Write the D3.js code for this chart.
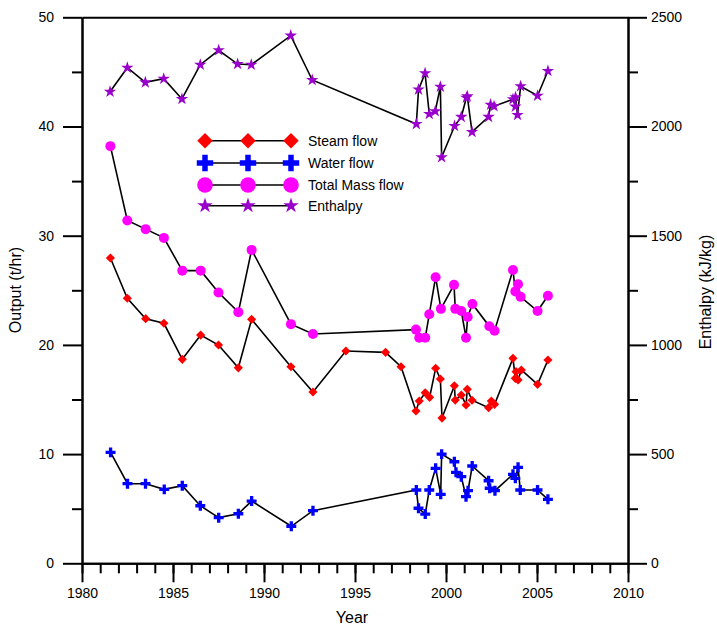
<!DOCTYPE html>
<html><head><meta charset="utf-8">
<script src="https://cdn.jsdelivr.net/npm/d3@7"></script>
<style>body{margin:0;background:#fff}svg{display:block}text{font-family:"Liberation Sans",Arial,sans-serif}</style>
</head><body><svg id="c" width="717" height="626"></svg>
<script>
const steamYears=[1981.56,1982.49,1983.5,1984.5,1985.51,1986.52,1987.5,1988.59,1989.32,1991.48,1992.69,1994.5,1996.68,1997.53,1998.35,1998.53,1998.86,1999.1,1999.43,1999.69,1999.78,2000.46,2000.51,2000.84,2001.1,2001.17,2001.43,2002.34,2002.49,2002.67,2003.68,2003.81,2003.85,2003.96,2004.14,2005.03,2005.6];
const steamFlow=[27.96,24.27,22.4,21.98,18.68,20.9,19.99,17.9,22.34,18.0,15.69,19.44,19.32,18.0,13.95,14.86,15.62,15.2,17.86,16.88,13.3,16.26,14.95,15.41,14.5,15.93,14.93,14.25,14.86,14.56,18.77,16.94,17.55,16.79,17.7,16.39,18.62];
const waterYears=[1981.57,1982.5,1983.49,1984.52,1985.51,1986.5,1987.51,1988.59,1989.32,1991.5,1992.69,1998.37,1998.49,1998.86,1999.08,1999.43,1999.71,1999.76,2000.46,2000.55,2000.84,2001.1,2001.21,2001.44,2002.34,2002.4,2002.69,2003.68,2003.81,2003.96,2004.08,2005.03,2005.6];
const waterFlow=[10.16,7.29,7.29,6.77,7.11,5.27,4.18,4.54,5.7,3.39,4.82,6.71,5.04,4.51,6.71,8.7,6.32,10.0,9.3,8.33,7.93,6.1,6.65,8.91,7.56,6.87,6.65,8.15,7.78,8.79,6.71,6.71,5.86];
const massYears=[1981.56,1982.49,1983.5,1984.5,1985.51,1986.52,1987.5,1988.59,1989.32,1991.48,1992.69,1998.35,1998.53,1998.86,1999.08,1999.43,1999.72,2000.44,2000.51,2000.84,2001.1,2001.19,2001.45,2002.38,2002.67,2003.68,2003.81,2003.96,2004.1,2005.03,2005.6];
const massFlow=[38.2,31.4,30.6,29.8,26.8,26.8,24.8,23.0,28.7,21.9,21.0,21.4,20.66,20.66,22.8,26.2,23.3,25.5,23.3,23.1,20.66,22.55,23.75,21.7,21.3,26.86,24.9,25.55,24.4,23.1,24.5];
const enthYears=[1981.54,1982.49,1983.48,1984.49,1985.49,1986.5,1987.51,1988.55,1989.3,1991.47,1992.65,1998.37,1998.49,1998.85,1999.08,1999.41,1999.69,1999.76,2000.47,2000.84,2001.12,2001.17,2001.43,2002.34,2002.45,2002.64,2003.68,2003.81,2003.82,2003.93,2004.1,2005.03,2005.6];
const enthalpy=[2159,2269,2202,2219,2126,2283,2349,2286,2283,2416,2213,2011,2169,2244,2057,2070,2182,1859,2002,2044,2132,2138,1975,2044,2100,2093,2125,2091,2134,2053,2184,2141,2254];
const xMajor=[1980,1985,1990,1995,2000,2005,2010];
const xMinor=d3.range(1980,2011,1);
const yLMajor=[0,10,20,30,40,50];
const yLMinor=[5,15,25,35,45];
const yRMajor=[0,500,1000,1500,2000,2500];
const yRMinor=[250,750,1250,1750,2250];
const legendNames=["Steam flow","Water flow","Total Mass flow","Enthalpy"];

const svg=d3.select("#c");
const L=82,R=628,T=17.3,B=563.3;
const x=d3.scaleLinear([1980,2010],[L,R]);
const yL=d3.scaleLinear([0,50],[B,T]);
const yR=d3.scaleLinear([0,2500],[B,T]);

function styleAxis(g){g.selectAll("path,line").attr("stroke","#000").attr("stroke-width",2);g.selectAll("text").attr("font-size",14).attr("fill","#000");}
svg.append("g").attr("transform",`translate(0,${B})`).call(d3.axisBottom(x).tickValues(xMinor).tickSize(10).tickSizeOuter(0).tickFormat("")).call(styleAxis);
svg.append("g").attr("transform",`translate(${L},0)`).call(d3.axisLeft(yL).tickValues(yLMinor).tickSize(10).tickSizeOuter(0).tickFormat("")).call(styleAxis);
svg.append("g").attr("transform",`translate(${R},0)`).call(d3.axisRight(yR).tickValues(yRMinor).tickSize(10).tickSizeOuter(0).tickFormat("")).call(styleAxis);
svg.append("g").attr("transform",`translate(0,${B})`).call(d3.axisBottom(x).tickValues(xMajor).tickSize(19).tickSizeOuter(0).tickPadding(6).tickFormat(d3.format("d"))).call(styleAxis);
svg.append("g").attr("transform",`translate(${L},0)`).call(d3.axisLeft(yL).tickValues(yLMajor).tickSize(19).tickSizeOuter(0).tickPadding(9).tickFormat(d3.format("d"))).call(styleAxis);
svg.append("g").attr("transform",`translate(${R},0)`).call(d3.axisRight(yR).tickValues(yRMajor).tickSize(19).tickSizeOuter(0).tickPadding(4).tickFormat(d3.format("d"))).call(styleAxis);
svg.append("g").attr("transform",`translate(0,${T})`).call(d3.axisTop(x).tickValues([]).tickSizeOuter(0)).call(styleAxis);

svg.append("text").attr("x",352).attr("y",623).attr("text-anchor","middle").attr("font-size",16).text("Year");
svg.append("text").attr("transform","translate(21,290) rotate(-90)").attr("text-anchor","middle").attr("font-size",16).text("Output (t/hr)");
svg.append("text").attr("transform","translate(711,292) rotate(-90)").attr("text-anchor","middle").attr("font-size",16).text("Enthalpy (kJ/kg)");

const series=[
 {xs:steamYears,ys:steamFlow,y:yL,color:"#ff0000",sym:"diamond"},
 {xs:waterYears,ys:waterFlow,y:yL,color:"#0000ff",sym:"cross"},
 {xs:massYears,ys:massFlow,y:yL,color:"#ff00ff",sym:"circle"},
 {xs:enthYears,ys:enthalpy,y:yR,color:"#9900cc",sym:"star"}
];
function marker(g,sym,color,big){
  let p;
  if(sym==="diamond") p=g.append("path").attr("d",d3.symbol(d3.symbolSquare,big?120:42)());
  if(sym==="cross") p=g.append("path").attr("d",d3.symbol(d3.symbolCross,big?150:55)());
  if(sym==="circle") p=g.append("circle").attr("r",big?7.8:5);
  if(sym==="star") p=g.append("path").attr("d",d3.symbol(d3.symbolStar,big?75:48)());
  p.attr("fill",color);
  return p;
}
const line=d3.line();
series.forEach(s=>{
  const pts=s.xs.map((v,i)=>[x(v),s.y(s.ys[i])]);
  svg.append("path").attr("d",line(pts)).attr("fill","none").attr("stroke","#000").attr("stroke-width",1.6);
  pts.forEach(p=>{
    const g=svg.append("g").attr("transform",`translate(${p[0]},${p[1]})`+(s.sym==="diamond"?" rotate(45)":""));
    marker(g,s.sym,s.color,false);
  });
});
const lx=[205,248,291], ly=[140.7,163,185,205.7];
series.forEach((s,i)=>{
  svg.append("line").attr("x1",lx[0]).attr("x2",lx[2]).attr("y1",ly[i]).attr("y2",ly[i]).attr("stroke","#000").attr("stroke-width",1.6);
  lx.forEach(px=>{
    const g=svg.append("g").attr("transform",`translate(${px},${ly[i]})`+(s.sym==="diamond"?" rotate(45)":""));
    marker(g,s.sym,s.color,true);
  });
  svg.append("text").attr("x",308).attr("y",ly[i]+5).attr("font-size",14).text(legendNames[i]);
});
</script></body></html>
